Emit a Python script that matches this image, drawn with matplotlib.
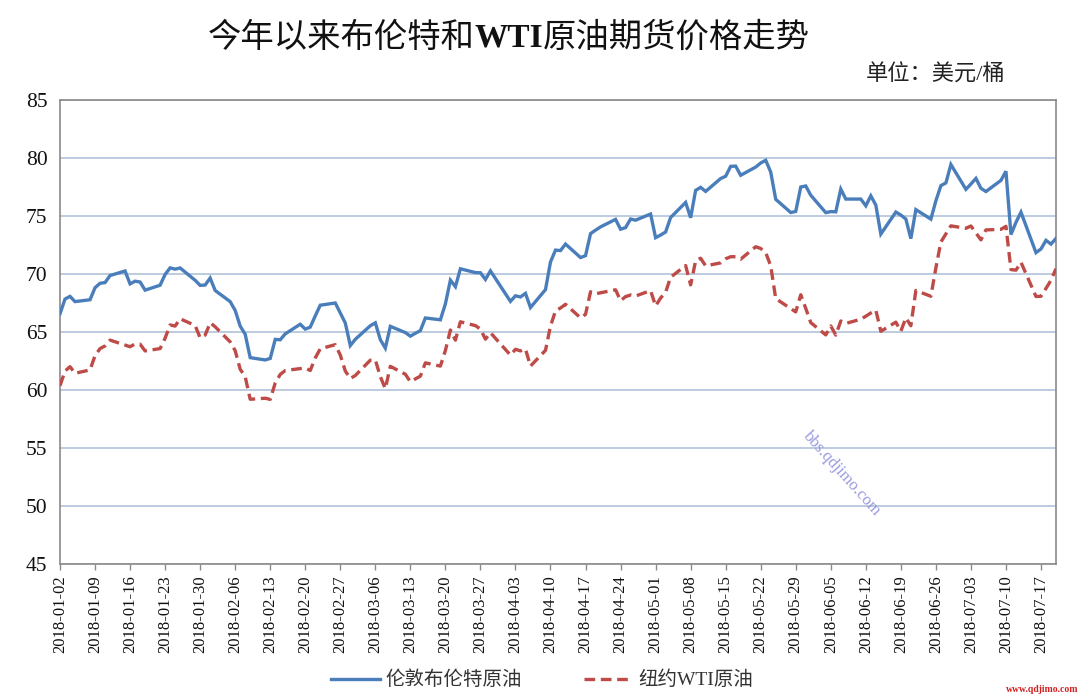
import numpy as np
import pandas as pd
import matplotlib
matplotlib.use("Agg")
import matplotlib.pyplot as plt
import matplotlib.dates as mdates

plt.rcParams['font.family'] = ['Liberation Serif', 'Noto Sans CJK SC', 'DejaVu Sans']

# ---- data ----
start_date = "2018-01-02"
end_date = "2018-07-20"
holidays = ["2018-03-30"]          # Good Friday, no trading
dates = pd.bdate_range(start_date, end_date)
dates = dates[~dates.isin(pd.to_datetime(holidays))]

brent = [
    # Jan
    66.57, 67.84, 68.07, 67.62, 67.78, 68.82, 69.20, 69.26, 69.87, 70.26, 69.15,
    69.38, 69.31, 68.61, 69.03, 69.96, 70.53, 70.42, 70.52, 69.46, 69.02, 69.05,
    # Feb
    69.65, 68.58, 67.62, 66.86, 65.51, 64.81, 62.79, 62.59, 62.72, 64.36, 64.33,
    64.84, 65.67, 65.25, 65.42, 66.39, 67.31, 67.50, 66.63, 65.78,
    # Mar
    63.83, 64.37, 65.54, 65.79, 64.34, 63.61, 65.49, 64.95, 64.64, 64.89, 65.12,
    66.21, 66.05, 67.42, 69.47, 68.91, 70.45, 70.12, 70.11, 69.53, 70.27,
    # Apr
    67.64, 68.12, 68.02, 68.33, 67.11, 68.65, 71.04, 72.06, 72.02, 72.58, 71.42,
    71.58, 73.48, 73.78, 74.06, 74.71, 73.86, 74.00, 74.74, 74.64, 75.17,
    # May
    73.13, 73.36, 73.62, 74.87, 76.17, 74.85, 77.21, 77.47, 77.12, 78.23, 78.43,
    79.28, 79.30, 78.51, 79.22, 79.57, 79.80, 78.79, 76.44, 75.30, 75.39, 77.50, 77.59,
    # Jun
    76.79, 75.29, 75.38, 75.36, 77.32, 76.46, 76.46, 75.88, 76.74, 75.94, 73.44,
    75.34, 75.08, 74.74, 73.05, 75.55, 74.73, 76.31, 77.62, 77.85, 79.44,
    # Jul
    77.30, 77.76, 78.24, 77.39, 77.11, 78.07, 78.86, 73.40, 74.45, 75.33, 71.84,
    72.16, 72.90, 72.58, 73.07,
]

wti = [
    # Jan
    60.37, 61.63, 62.01, 61.44, 61.73, 62.96, 63.57, 63.80, 64.30, None, 63.73,
    63.97, 63.95, 63.37, 63.57, 64.47, 65.61, 65.51, 66.14, 65.56, 64.50, 64.73,
    # Feb
    65.80, 65.45, 64.15, 63.39, 61.79, 61.15, 59.20, 59.29, 59.19, 60.60, 61.34,
    61.68, None, 61.90, 61.68, 62.77, 63.55, 63.91, 63.01, 61.64,
    # Mar
    60.99, 61.25, 62.57, 62.60, 61.15, 60.12, 62.04, 61.36, 60.71, 60.96, 61.19,
    62.34, 62.06, 63.40, 65.17, 64.30, 65.88, 65.55, 65.25, 64.38, 64.94,
    # Apr
    63.01, 63.51, 63.37, 63.54, 62.06, 63.42, 65.51, 66.82, 67.07, 67.39, 66.22,
    66.52, 68.47, 68.29, 68.38, 68.64, 67.70, 68.05, 68.19, 68.10, 68.57,
    # May
    67.25, 67.93, 68.43, 69.72, 70.73, 69.06, 71.14, 71.36, 70.70, 70.96, 71.31,
    71.49, 71.49, 71.28, 72.35, 72.20, 71.84, 70.71, 67.88, None, 66.73, 68.21, 67.04,
    # Jun
    65.81, 64.75, 65.52, 64.73, 65.95, 65.74, 66.10, 66.36, 66.64, 66.89, 65.06,
    65.85, 65.07, 66.22, 65.54, 68.58, 68.08, 70.53, 72.76, 73.45, 74.15,
    # Jul
    73.94, 74.14, None, 72.94, 73.80, 73.85, 74.11, 70.38, 70.33, 71.01, 68.06,
    68.08, 68.76, 69.46, 70.46,
]

series_names = ["伦敦布伦特原油", "纽约WTI原油"]
title_parts = ["今年以来布伦特和", "WTI", "原油期货价格走势"]
unit_label = "单位：美元/桶"
y_ticks = [45, 50, 55, 60, 65, 70, 75, 80, 85]
tick_step_days = 7

# ---- figure ----
fig = plt.figure(figsize=(10.8, 7.0), dpi=100)
W, H = 1080, 700
L, R, T, B = 60, 1056, 100, 564
ax = fig.add_axes([L / W, 1 - B / H, (R - L) / W, (B - T) / H])

brent_s = pd.Series(brent, index=dates, dtype=float)
wti_s = pd.Series(wti, index=dates, dtype=float).dropna()

blue = "#4A7EBB"
red = "#BE4B48"
ax.plot(brent_s.index, brent_s.values, color=blue, lw=2.4, solid_joinstyle="miter",
        label=series_names[0], zorder=3)
ax.plot(wti_s.index, wti_s.values, color=red, lw=2.4, dashes=(3.2, 1.7),
        dash_capstyle="butt", label=series_names[1], zorder=3)

ax.set_ylim(45, 85)
ax.set_yticks(y_ticks)
ax.set_xlim(dates[0], dates[-1])
ticks = pd.date_range(dates[0], dates[-1], freq=f"{tick_step_days}D")
ax.set_xticks(ticks)
ax.set_xticklabels([d.strftime("%Y-%m-%d") for d in ticks], rotation=90,
                   fontsize=12, color="#111111")
for lab in ax.get_yticklabels():
    lab.set_fontsize(15.5)
    lab.set_color("#111111")

ax.grid(axis="y", color="#B7C7DC", lw=1.3, zorder=1)
ax.set_axisbelow(True)
for s in ax.spines.values():
    s.set_color("#8A8A8A")
    s.set_linewidth(1.2)
ax.tick_params(axis="y", length=0, pad=9)
ax.tick_params(axis="x", direction="out", length=4, width=1, color="#8A8A8A", pad=4)

# legend
leg = fig.legend(loc="center", bbox_to_anchor=(0.502, 1 - 680 / H), ncol=2,
                 frameon=False, fontsize=14, handlelength=2.5, handletextpad=0.3,
                 columnspacing=3.2)
for t in leg.get_texts():
    t.set_color("#333333")

# title composed of three parts (WTI in bold)
fig.canvas.draw()
r = fig.canvas.get_renderer()
fs_title = 24
pieces = []
for i, p in enumerate(title_parts):
    t = fig.text(0, 0, p, fontsize=fs_title, fontweight=("bold" if i == 1 else "normal"),
                 color="#111111", va="center", ha="left")
    pieces.append(t)
widths = [t.get_window_extent(renderer=r).width for t in pieces]
total = sum(widths)
x0 = 509 - total / 2
ty = 1 - 38 / H
for t, w in zip(pieces, widths):
    t.set_position((x0 / W, ty))
    x0 += w

fig.text(1005 / W, 1 - 75 / H, unit_label, fontsize=16, ha="right", va="center",
         color="#222222")

# watermark text
fig.text(842 / W, 1 - 474 / H, "bbs.qdjimo.com", fontsize=12, rotation=-48,
         ha="center", va="center", color="#8080D8", alpha=0.8)
fig.text(1042 / W, 1 - 690 / H, "www.qdjimo.com", fontsize=7, ha="center",
         va="center", color="#D02020", fontweight="bold")

fig.savefig("out.png", dpi=100)
